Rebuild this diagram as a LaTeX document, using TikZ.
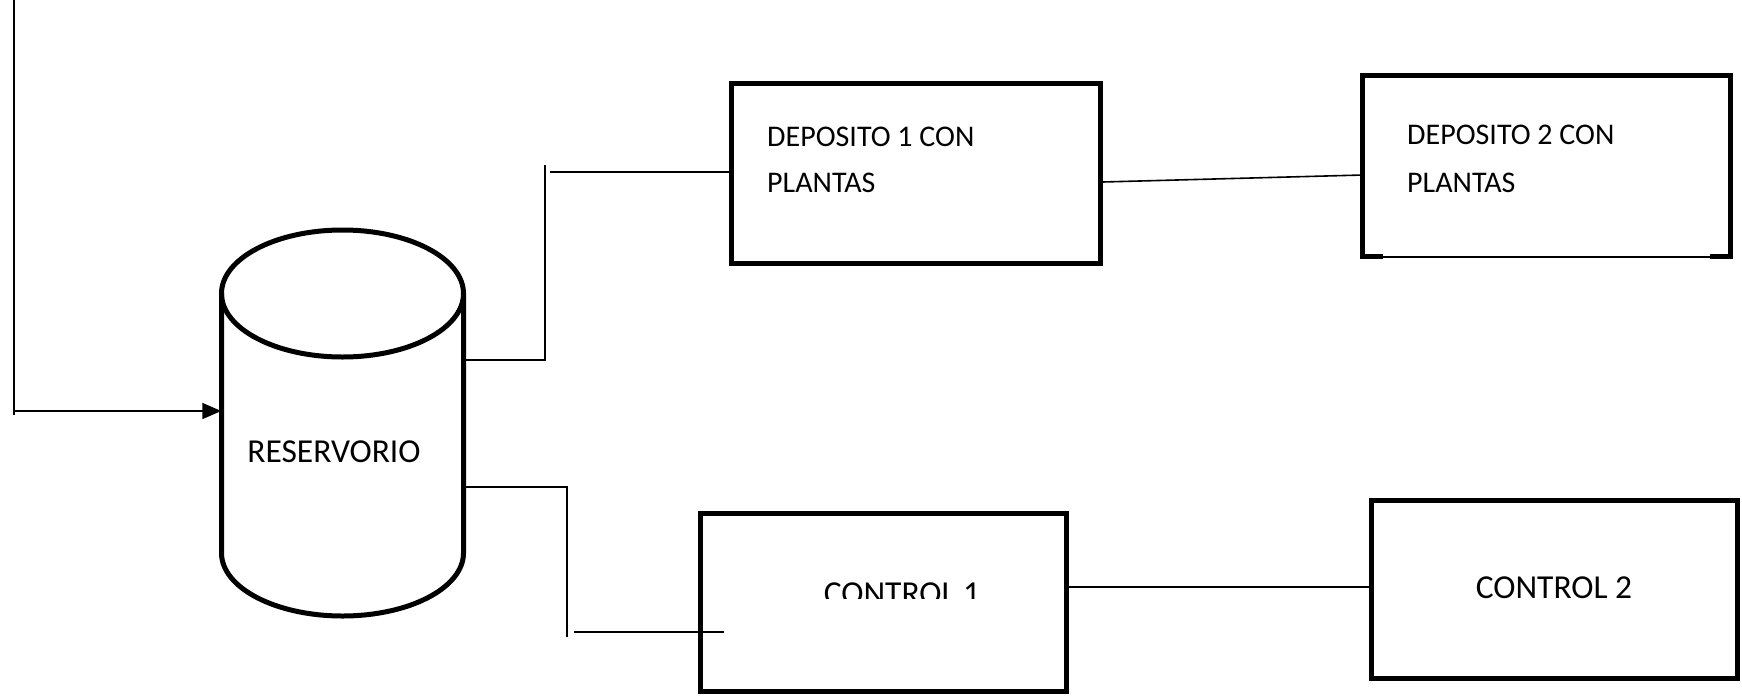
\documentclass[tikz,border=0pt]{standalone}
\usepackage{fontspec}
\setmainfont{Carlito}
\usetikzlibrary{arrows.meta,calc}
\begin{document}
\begin{tikzpicture}[x=1pt,y=-1pt,
  box/.style={draw,line width=5pt,rectangle,inner sep=0pt},
  ghost/.style={rectangle,inner sep=0pt},
  conn/.style={line width=1.6pt},
  cyl/.style={line width=5pt},
  dtxt/.style={anchor=base west,inner sep=0pt,font=\fontsize{30}{36}\selectfont},
  ctxt/.style={anchor=base,inner sep=0pt,font=\fontsize{33.5}{40}\selectfont}]
\useasboundingbox (0,0) rectangle (1742,699);
% reservoir (cylinder)
\node[ghost,minimum width=242pt,minimum height=386pt] (res) at (342.5,423) {};
\draw[cyl] (342.5,293.5) ellipse [x radius=121pt,y radius=63.5pt];
\draw[cyl] (221.5,293.5) -- (221.5,553) arc[start angle=180,end angle=360,x radius=121pt,y radius=63pt] -- (463.5,293.5);
\node[ctxt] (rest) at (334,462) {RESERVORIO};
% boxes
\node[box,minimum width=369pt,minimum height=180pt] (b1) at (915.5,173) {};
\node[dtxt] (b1a) at (767,146) {DEPOSITO 1 CON};
\node[dtxt] (b1b) at (767,192) {PLANTAS};
\node[ghost,minimum width=367pt,minimum height=180pt] (b2) at (1546.5,166) {};
\draw[line width=5pt] ($(b2.south west)+(20,0)$) -- (b2.south west) -- (b2.north west) -- (b2.north east) -- (b2.south east) -- ++(-20,0);
\draw[conn] ($(b2.south west)+(0,1)$) -- ($(b2.south east)+(0,1)$);
\node[dtxt] (b2a) at (1407,144) {DEPOSITO 2 CON};
\node[dtxt] (b2b) at (1407,192) {PLANTAS};
\node[box,minimum width=366pt,minimum height=178pt] (c1) at (883,602) {};
\begin{scope}
\clip (705,520) rectangle (1060,598);
\node[ctxt] (c1t) at (902,604) {CONTROL 1};
\end{scope}
\node[box,minimum width=366pt,minimum height=178pt] (c2) at (1554,589) {};
\node[ctxt] (c2t) at (1554,598) {CONTROL 2};
% connectors
\coordinate (inTop) at (14,0);
\coordinate (inEnd) at (14,415);
\coordinate (inCorner) at (14,411);
\draw[conn] (inTop) -- (inEnd);
\draw[conn,-{Triangle[length=19pt,width=16pt]}] (inCorner) -- (inCorner -| res.west);
\coordinate (u1) at (545,360);
\coordinate (u2) at (545,165);
\coordinate (u3) at (550,172);
\draw[conn] (u1 -| res.east) -- (u1) -- (u2);
\draw[conn] (u3) -- (u3 -| b1.west);
\draw[conn] (b1.east |- 0,182) -- (b2.west |- 0,175);
\coordinate (l1) at (567,487);
\coordinate (l2) at (567,637);
\coordinate (l3) at (574,632);
\coordinate (l4) at (724,632);
\draw[conn] (l1 -| res.east) -- (l1) -- (l2);
\draw[conn] (l3) -- (l4);
\draw[conn] (c1.east |- 0,587) -- (c2.west |- 0,587);
\end{tikzpicture}
\end{document}
